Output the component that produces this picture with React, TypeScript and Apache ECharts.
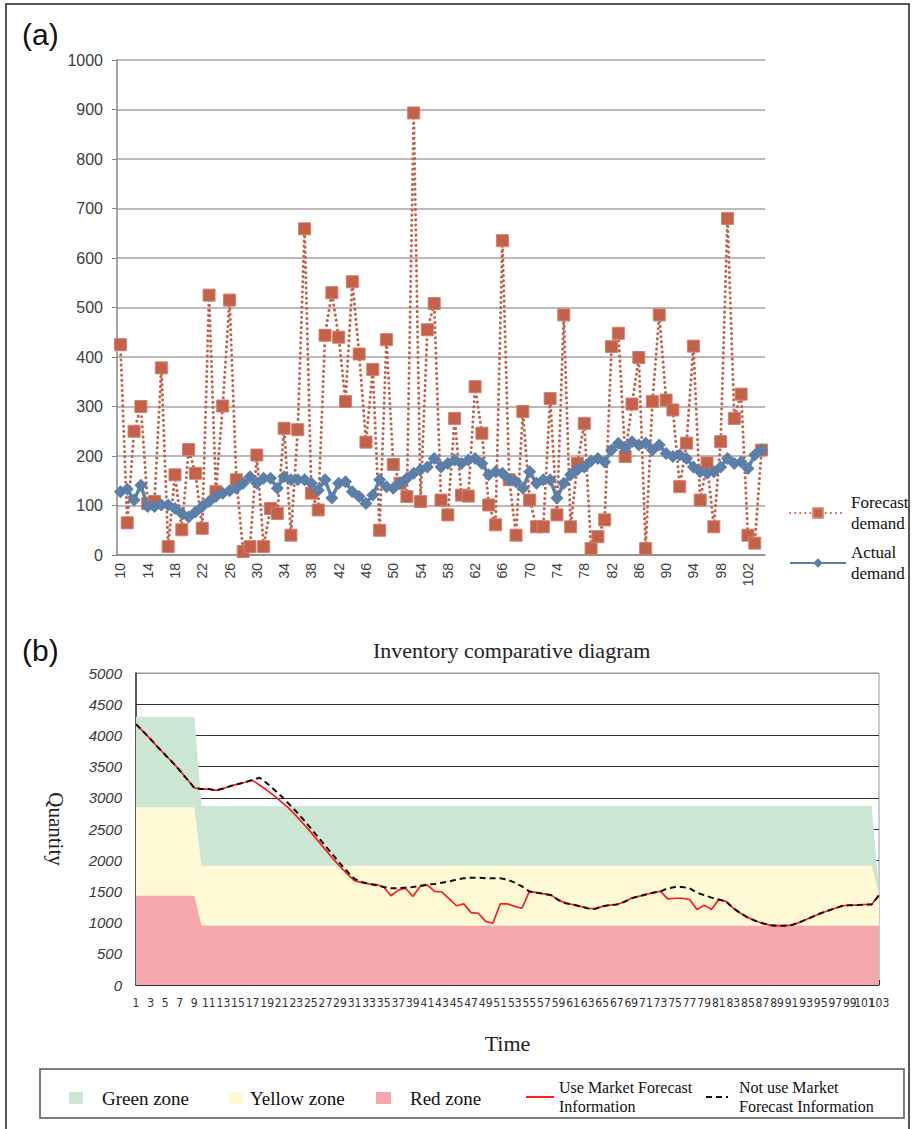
import React, { useEffect, useRef } from "react";
import * as echarts from "echarts";

// ---------- Panel (a): demand ----------
const demandPeriods = Array.from({ length: 95 }, (_, i) => String(10 + i));
const forecastDemand = [
  425, 65, 250, 300, 104, 108, 378, 17, 162, 51,
  213, 165, 54, 525, 128, 301, 515, 152, 7, 17,
  202, 17, 94, 84, 256, 40, 253, 659, 125, 91,
  444, 530, 440, 310, 552, 406, 228, 375, 50, 435,
  183, 145, 118, 893, 108, 455, 508, 111, 81, 276,
  121, 119, 340, 246, 101, 61, 635, 152, 40, 290,
  111, 57, 57, 316, 81, 485, 57, 185, 266, 13,
  37, 71, 421, 448, 199, 305, 399, 13, 310, 485,
  313, 293, 138, 226, 422, 111, 186, 57, 229, 680,
  276, 325, 40, 24, 212,
];
const actualDemand = [
  128, 133, 111, 141, 98, 98, 101, 101, 94, 84,
  77, 87, 98, 108, 118, 125, 130, 135, 145, 158,
  145, 155, 155, 135, 158, 152, 152, 152, 145, 131,
  152, 115, 145, 148, 128, 118, 104, 121, 152, 138,
  135, 145, 155, 165, 172, 178, 195, 178, 185, 192,
  185, 192, 195, 185, 162, 168, 165, 152, 148, 135,
  168, 145, 152, 152, 115, 145, 162, 172, 178, 190,
  195, 188, 212, 226, 216, 229, 222, 226, 212, 222,
  205, 199, 202, 195, 178, 168, 165, 168, 178, 195,
  185, 188, 175, 202, 212,
];

// ---------- Panel (b): inventory ----------
const timeSteps = Array.from({ length: 103 }, (_, i) => String(i + 1));
const useMarketForecast = [
  4180, 4060, 3940, 3810, 3690, 3570, 3440, 3300, 3160, 3140,
  3140, 3120, 3150, 3190, 3220, 3250, 3280, 3200, 3120, 3030,
  2930, 2830, 2710, 2580, 2450, 2310, 2170, 2030, 1900, 1780,
  1670, 1640, 1620, 1610, 1570, 1430, 1520, 1550, 1420, 1580,
  1600, 1500, 1490, 1380, 1270, 1300, 1160, 1150, 1020, 990,
  1300, 1300, 1260, 1230, 1500, 1480, 1460, 1440, 1360, 1310,
  1290, 1260, 1230, 1220, 1260, 1280, 1290, 1330, 1390, 1420,
  1450, 1480, 1500, 1380, 1390, 1390, 1370, 1210, 1280, 1210,
  1370, 1340, 1230, 1150, 1080, 1030, 990, 960, 950, 950,
  960, 1000, 1050, 1100, 1150, 1190, 1230, 1270, 1280, 1280,
  1290, 1290, 1440,
];
const notUseMarketForecast = [
  4180, 4060, 3940, 3810, 3690, 3570, 3440, 3300, 3160, 3140,
  3140, 3120, 3150, 3190, 3220, 3250, 3290, 3320, 3230, 3130,
  3020, 2900, 2780, 2650, 2510, 2370, 2230, 2090, 1950, 1820,
  1700, 1650, 1620, 1600, 1570, 1550, 1550, 1560, 1570, 1590,
  1610, 1620, 1640, 1660, 1690, 1710, 1720, 1720, 1710, 1710,
  1710, 1690, 1640, 1580, 1500, 1480, 1460, 1440, 1360, 1310,
  1290, 1260, 1230, 1220, 1260, 1280, 1290, 1330, 1390, 1420,
  1450, 1480, 1500, 1550, 1570, 1570, 1550, 1480, 1440, 1400,
  1370, 1340, 1230, 1150, 1080, 1030, 990, 960, 950, 950,
  960, 1000, 1050, 1100, 1150, 1190, 1230, 1270, 1280, 1280,
  1290, 1290, 1440,
];
const zoneBreaks = [1, 9, 10, 102, 103];
const greenZoneTop = [4300, 4300, 2870, 2870, 1500];
const yellowZoneTop = [2850, 2850, 1910, 1910, 1450];
const redZoneTop = [1430, 1430, 950, 950, 950];

const SERIF = "'Liberation Serif', 'Times New Roman', serif";
const SANS = "'Liberation Sans', Arial, sans-serif";
const NARROW = "'Liberation Sans Narrow', 'DejaVu Sans Condensed', sans-serif";

const GREEN = "#cce6d4";
const YELLOW = "#fff9d6";
const PINK = "#f5a8ac";

function zoneData(top: number[]) {
  return zoneBreaks.map((t, i) => [t - 1, top[i]]);
}

export default function App() {
  const ref = useRef<HTMLDivElement>(null);
  useEffect(() => {
    if (!ref.current) return;
    const chart = echarts.init(ref.current, undefined, { renderer: "svg" });
    const zoneSeries = (name: string, color: string, top: number[], z: number) => ({
      name,
      type: "line",
      xAxisIndex: 1,
      yAxisIndex: 1,
      data: zoneData(top),
      symbol: "none",
      lineStyle: { width: 0, opacity: 0 },
      itemStyle: { color },
      areaStyle: { color, opacity: 1 },
      z,
      silent: true,
    });
    const bSplitColors = [
      "#333", "#333", "#333", "#333", "#333", "#333",
      "#333", "#333", "#333", "#333", "#9a9a9a",
    ];
    const plain = (v: number) => String(v);
    chart.setOption({
      animation: false,
      backgroundColor: "#fff",
      title: [
        { text: "(a)", left: 17, top: 14, textStyle: { fontFamily: SANS, fontSize: 30, fontWeight: "normal", color: "#111" } },
        { text: "(b)", left: 17, top: 630, textStyle: { fontFamily: SANS, fontSize: 30, fontWeight: "normal", color: "#111" } },
        { text: "Inventory comparative diagram", left: 368, top: 634, textStyle: { fontFamily: SERIF, fontSize: 22, fontWeight: "normal", color: "#222" } },
      ],
      graphic: [
        { type: "rect", shape: { x: 6, y: 4, width: 903, height: 1140 }, style: { fill: "none", stroke: "#222", lineWidth: 1.5 }, z: -1 },
        { type: "rect", shape: { x: 40, y: 1069, width: 864, height: 49 }, style: { fill: "#fff", stroke: "#555", lineWidth: 1.5 }, z: -1 },
      ],
      legend: [
        {
          data: ["Forecast demand", "Actual demand"],
          orient: "vertical",
          left: 784,
          top: 487,
          itemWidth: 56,
          itemHeight: 12,
          itemGap: 8,
          formatter: (n: string) => n.replace(" ", "\n"),
          textStyle: { fontFamily: SERIF, fontSize: 17, lineHeight: 21, color: "#111" },
        },
        { data: [{ name: "Green zone", icon: "rect" }], left: 64, top: 1083, itemWidth: 14, itemHeight: 12, textStyle: { fontFamily: SERIF, fontSize: 19, lineHeight: 20, color: "#111", padding: [0, 0, 0, 14] } },
        { data: [{ name: "Yellow zone", icon: "rect" }], left: 224, top: 1083, itemWidth: 14, itemHeight: 12, textStyle: { fontFamily: SERIF, fontSize: 19, lineHeight: 20, color: "#111", padding: [0, 0, 0, 2] } },
        { data: [{ name: "Red zone", icon: "rect" }], left: 371, top: 1083, itemWidth: 15, itemHeight: 12, textStyle: { fontFamily: SERIF, fontSize: 19, lineHeight: 20, color: "#111", padding: [0, 0, 0, 14] } },
        { data: ["Use Market Forecast Information"], left: 520, top: 1073, itemWidth: 28, itemHeight: 12, itemStyle: { opacity: 0 }, formatter: () => "Use Market Forecast\nInformation", textStyle: { fontFamily: SERIF, fontSize: 16, lineHeight: 19, color: "#111" } },
        { data: ["Not use Market Forecast Information"], left: 700, top: 1073, itemWidth: 22, itemHeight: 12, itemStyle: { opacity: 0 }, formatter: () => "Not use Market\nForecast Information", textStyle: { fontFamily: SERIF, fontSize: 16, lineHeight: 19, color: "#111", padding: [0, 0, 0, 6] } },
      ],
      grid: [
        { left: 117, top: 60, width: 648, height: 495, containLabel: false },
        { left: 136, top: 673, width: 743, height: 312, containLabel: false, show: true, borderColor: "#9a9a9a", borderWidth: 1 },
      ],
      xAxis: [
        {
          type: "category",
          gridIndex: 0,
          data: demandPeriods,
          boundaryGap: true,
          axisLine: { lineStyle: { color: "#868686", width: 1.5 } },
          axisTick: { interval: 0, length: 5, lineStyle: { color: "#868686" } },
          axisLabel: { interval: 3, rotate: 90, fontFamily: SANS, fontSize: 14, color: "#404040", margin: 8 },
          splitLine: { show: false },
        },
        {
          type: "category",
          gridIndex: 1,
          data: timeSteps,
          boundaryGap: false,
          name: "Time",
          nameLocation: "middle",
          nameGap: 47,
          nameTextStyle: { fontFamily: SERIF, fontSize: 22, color: "#222" },
          axisLine: { lineStyle: { color: "#333", width: 1.5 } },
          axisTick: { interval: 4, inside: true, length: 5, lineStyle: { color: "#333" } },
          axisLabel: {
            interval: 0,
            formatter: (v: string, i: number) => (i % 2 === 0 ? v : ""),
            fontFamily: NARROW,
            fontSize: 12,
            color: "#333",
            margin: 12,
          },
          splitLine: { show: false },
        },
      ],
      yAxis: [
        {
          type: "value",
          gridIndex: 0,
          min: 0,
          max: 1000,
          interval: 100,
          axisLine: { show: true, lineStyle: { color: "#868686", width: 1.5 } },
          axisTick: { show: true, length: 5, lineStyle: { color: "#868686" } },
          axisLabel: { formatter: plain, fontFamily: SANS, fontSize: 16, color: "#404040", margin: 14 },
          splitLine: { lineStyle: { color: "#a8a3a3", width: 1.6 } },
        },
        {
          type: "value",
          gridIndex: 1,
          min: 0,
          max: 5000,
          interval: 500,
          name: "Quantity",
          nameLocation: "middle",
          nameRotate: -90,
          nameGap: 70,
          nameTextStyle: { fontFamily: SERIF, fontSize: 21, color: "#222" },
          axisLine: { show: true, lineStyle: { color: "#333", width: 1.5 } },
          axisTick: { show: false },
          axisLabel: { formatter: plain, fontFamily: SANS, fontStyle: "italic", fontSize: 15, color: "#3a3a3a", margin: 14 },
          splitLine: { lineStyle: { color: bSplitColors, width: 1.2 } },
        },
      ],
      series: [
        {
          name: "Forecast demand",
          type: "line",
          xAxisIndex: 0,
          yAxisIndex: 0,
          data: forecastDemand,
          showAllSymbol: true,
          symbol: "rect",
          symbolSize: 12,
          itemStyle: { color: "#c4614a", borderColor: "#d4806b", borderWidth: 1 },
          lineStyle: { color: "#c4614a", width: 3, type: [0.1, 5], cap: "round" },
          z: 2,
        },
        {
          name: "Actual demand",
          type: "line",
          xAxisIndex: 0,
          yAxisIndex: 0,
          data: actualDemand,
          showAllSymbol: true,
          symbol: "diamond",
          symbolSize: 13,
          itemStyle: { color: "#5b7fa9" },
          lineStyle: { color: "#5b7fa9", width: 3.5 },
          z: 3,
        },
        zoneSeries("Green zone", GREEN, greenZoneTop, 1),
        zoneSeries("Yellow zone", YELLOW, yellowZoneTop, 1),
        zoneSeries("Red zone", PINK, redZoneTop, 1),
        {
          name: "Use Market Forecast Information",
          type: "line",
          xAxisIndex: 1,
          yAxisIndex: 1,
          data: useMarketForecast,
          symbol: "none",
          itemStyle: { color: "#ff1c1c" },
          lineStyle: { color: "#ff1c1c", width: 1.7 },
          z: 3,
        },
        {
          name: "Not use Market Forecast Information",
          type: "line",
          xAxisIndex: 1,
          yAxisIndex: 1,
          data: notUseMarketForecast,
          symbol: "none",
          itemStyle: { color: "#111" },
          lineStyle: { color: "#111", width: 2, type: [6, 4] },
          z: 4,
        },
      ],
    });
    return () => chart.dispose();
  }, []);
  return (
    <div
      ref={ref}
      style={{ position: "fixed", left: 0, top: 0, width: 912, height: 1129, background: "#fff" }}
    />
  );
}
